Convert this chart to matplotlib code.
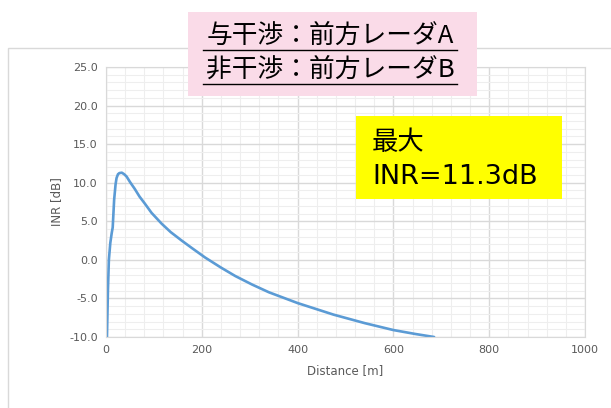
import matplotlib
matplotlib.use("Agg")
import matplotlib.pyplot as plt
from matplotlib.patches import Rectangle
from matplotlib.ticker import MultipleLocator, FormatStrFormatter

distance = [2, 4, 6, 9, 12, 14, 17, 20, 22, 25, 28, 33, 38, 43, 50, 60, 70, 81, 95, 116, 135, 158, 180, 207, 240, 270, 305, 340, 400, 475, 540, 600, 645, 685]
inr = [-10.0, -4.0, 0.0, 2.2, 3.5, 4.2, 7.8, 9.8, 10.6, 11.1, 11.25, 11.3, 11.1, 10.8, 10.1, 9.2, 8.2, 7.3, 6.1, 4.7, 3.6, 2.5, 1.5, 0.3, -1.0, -2.1, -3.2, -4.2, -5.6, -7.1, -8.2, -9.1, -9.6, -10.0]
x_ticks = [0, 200, 400, 600, 800, 1000]
y_ticks = [-10, -5, 0, 5, 10, 15, 20, 25]
title_lines = ["与干渉：前方レーダA", "非干渉：前方レーダB"]
note_lines = ["最大", "INR=11.3dB"]

W, H = 611, 408
fig = plt.figure(figsize=(W / 100, H / 100), dpi=100)
fig.patch.set_facecolor("white")

# outer chart border
fig.patches.append(Rectangle((8 / W, -0.1), 1.2, 1 - 48 / H + 0.1, transform=fig.transFigure,
                             fill=False, edgecolor="#d9d9d9", linewidth=1.0))

ax = fig.add_axes([106 / W, 1 - 337 / H, (585 - 106) / W, (337 - 67) / H])
ax.plot(distance, inr, color="#5b9bd5", linewidth=1.9, solid_capstyle="round", solid_joinstyle="round")
ax.set_xlim(0, 1000)
ax.set_ylim(-10, 25)
ax.set_xticks(x_ticks)
ax.set_yticks(y_ticks)
ax.yaxis.set_major_formatter(FormatStrFormatter("%.1f"))
ax.xaxis.set_minor_locator(MultipleLocator(40))
ax.yaxis.set_minor_locator(MultipleLocator(1))
ax.grid(which="major", color="#d9d9d9", linewidth=1.0)
ax.grid(which="minor", color="#eeeeee", linewidth=0.8)
ax.set_axisbelow(True)
for s in ax.spines.values():
    s.set_color("#d9d9d9")
ax.tick_params(which="both", length=0, colors="#595959", labelsize=8, pad=6)
ax.set_xlabel("Distance [m]", color="#595959", fontsize=8.5, labelpad=6)
ax.set_ylabel("INR [dB]", color="#595959", fontsize=8.5, labelpad=4)

# pink title box
fig.patches.append(Rectangle((188 / W, 1 - 96 / H), (477 - 188) / W, (96 - 12) / H,
                             transform=fig.transFigure, facecolor="#fadbe8", edgecolor="none", zorder=5))
jp = ["Noto Sans CJK JP", "DejaVu Sans"]
for t, yc, yu in zip(title_lines, [36, 70], [50, 84]):
    fig.text(330 / W, 1 - yc / H, t, ha="center", va="center", fontsize=18.5, family=jp, color="black", zorder=6)
    fig.add_artist(plt.Line2D([203 / W, 457 / W], [1 - yu / H, 1 - yu / H], transform=fig.transFigure,
                              color="black", linewidth=1.0, zorder=6))

# yellow note box
fig.patches.append(Rectangle((356 / W, 1 - 199 / H), (562 - 356) / W, (199 - 116) / H,
                             transform=fig.transFigure, facecolor="#ffff00", edgecolor="none", zorder=5))
fig.text(372 / W, 1 - 143 / H, note_lines[0], ha="left", va="center", fontsize=19, family=jp, zorder=6)
fig.text(372 / W, 1 - 177 / H, note_lines[1], ha="left", va="center", fontsize=19.5,
         family=["DejaVu Sans"], zorder=6)

fig.savefig("out.png", dpi=100)
